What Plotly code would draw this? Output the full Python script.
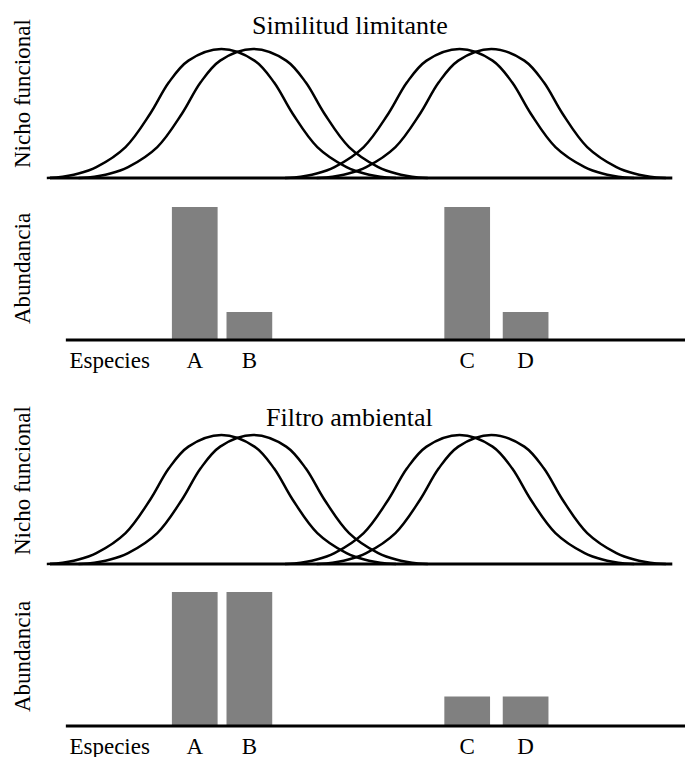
"""
Niche curves and species abundances under limiting similarity vs environmental filtering.
"""

import plotly.graph_objects as go

# Species and their niche centres along the trait axis
SPECIES = ["A", "B", "C", "D"]
NICHE_CENTRES = [2.7, 3.2, 6.45, 6.95]

# Shape of one niche curve (offset from centre, relative height)
PROFILE_OFFSET = [-2.75, -2.6, -2.25, -1.97, -1.51, -1.12, -0.83, -0.52, 0.0,
                  0.52, 0.83, 1.12, 1.51, 1.97, 2.25, 2.6, 2.75]
PROFILE_HEIGHT = [0.0, 0.004, 0.035, 0.085, 0.24, 0.50, 0.74, 0.91, 1.0,
                  0.91, 0.74, 0.50, 0.24, 0.085, 0.035, 0.004, 0.0]

# Bars
BAR_POSITIONS = [2.28, 3.14, 6.57, 7.49]
ABUND_LIMITING = [1.0, 0.21, 1.0, 0.21]
ABUND_FILTER = [1.0, 1.0, 0.22, 0.22]

PANEL_TITLES = ["Similitud limitante", "Filtro ambiental"]
X_LABEL = "Especies"
X_LABEL_POS = 0.94
Y_LABEL_NICHE = "Nicho funcional"
Y_LABEL_ABUND = "Abundancia"

W, H = 685, 757
FONT = "Liberation Serif, Times New Roman, serif"
X_RANGE = [-0.787, 10.0]
Y_RANGE = [-0.05, 1.12]


def domain(y0_px, y1_px, yrange):
    # y0_px: pixel row of value 0, y1_px: pixel row of value 1
    unit = y0_px - y1_px
    bottom = y0_px - yrange[0] * unit
    top = y0_px - yrange[1] * unit
    return [1 - bottom / H, 1 - top / H]


# (kind, pixel of 0, pixel of 1, abundances, title)
panels = [
    ("curve", 178, 49, None, PANEL_TITLES[0]),
    ("bar", 340, 207, ABUND_LIMITING, None),
    ("curve", 564, 435, None, PANEL_TITLES[1]),
    ("bar", 726, 592, ABUND_FILTER, None),
]

fig = go.Figure()
layout = dict(
    width=W,
    height=H,
    margin=dict(l=0, r=0, t=0, b=0),
    plot_bgcolor="white",
    paper_bgcolor="white",
    showlegend=False,
    font=dict(family=FONT, size=23, color="black"),
    shapes=[],
    annotations=[],
)

for i, (kind, y0_px, y1_px, abund, title) in enumerate(panels):
    n = "" if i == 0 else str(i + 1)
    xa, ya = "x" + n, "y" + n
    layout["xaxis" + n] = dict(
        domain=[0, 1], range=X_RANGE, anchor=ya, showgrid=False, zeroline=False,
        showline=False, showticklabels=False, ticks="", automargin=False,
        fixedrange=True,
    )
    layout["yaxis" + n] = dict(
        domain=domain(y0_px, y1_px, Y_RANGE), range=Y_RANGE, anchor=xa,
        showgrid=False, zeroline=False, showline=False, showticklabels=False,
        ticks="", automargin=False, fixedrange=True,
    )

    if kind == "curve":
        for c in NICHE_CENTRES:
            fig.add_trace(go.Scatter(
                x=[c + o for o in PROFILE_OFFSET], y=PROFILE_HEIGHT,
                mode="lines", line=dict(color="black", width=2.5, shape="spline"),
                xaxis=xa, yaxis=ya, hoverinfo="skip",
            ))
        layout["shapes"].append(dict(
            type="line", xref=xa, yref=ya, x0=0, x1=9.8, y0=0, y1=0,
            line=dict(color="black", width=3),
        ))
        layout["annotations"].append(dict(
            text=title, xref=xa, yref=ya, x=(350 - 50) / 63.5, y=1.0,
            yshift=(y1_px - (26 if i == 0 else 417)), showarrow=False,
            font=dict(size=26), xanchor="center", yanchor="middle",
        ))
        layout["annotations"].append(dict(
            text=Y_LABEL_NICHE, xref="paper", yref="paper", x=22 / W,
            y=1 - (94 if i == 0 else 481) / H, textangle=-90, showarrow=False,
            xanchor="center", yanchor="middle",
        ))
    else:
        fig.add_trace(go.Bar(
            x=BAR_POSITIONS, y=abund, width=0.72,
            marker=dict(color="#808080", line=dict(width=0)),
            xaxis=xa, yaxis=ya, hoverinfo="skip",
        ))
        layout["xaxis" + n].update(
            showticklabels=True,
            tickvals=[X_LABEL_POS] + BAR_POSITIONS,
            ticktext=[X_LABEL] + SPECIES,
            tickfont=dict(size=23),
            ticklabelstandoff=-3,
        )
        layout["shapes"].append(dict(
            type="line", xref=xa, yref=ya, x0=0.25, x1=10.0, y0=0, y1=0,
            line=dict(color="black", width=3),
        ))
        layout["annotations"].append(dict(
            text=Y_LABEL_ABUND, xref="paper", yref="paper", x=22 / W,
            y=1 - (269 if i == 1 else 657) / H, textangle=-90, showarrow=False,
            xanchor="center", yanchor="middle",
        ))

fig.update_layout(**layout)
# drop the page's default body margin so the figure sits at the window's corner
fig.write_html(
    "out.html",
    config={"displayModeBar": False},
    post_script="document.body.style.margin = '0px';",
)
